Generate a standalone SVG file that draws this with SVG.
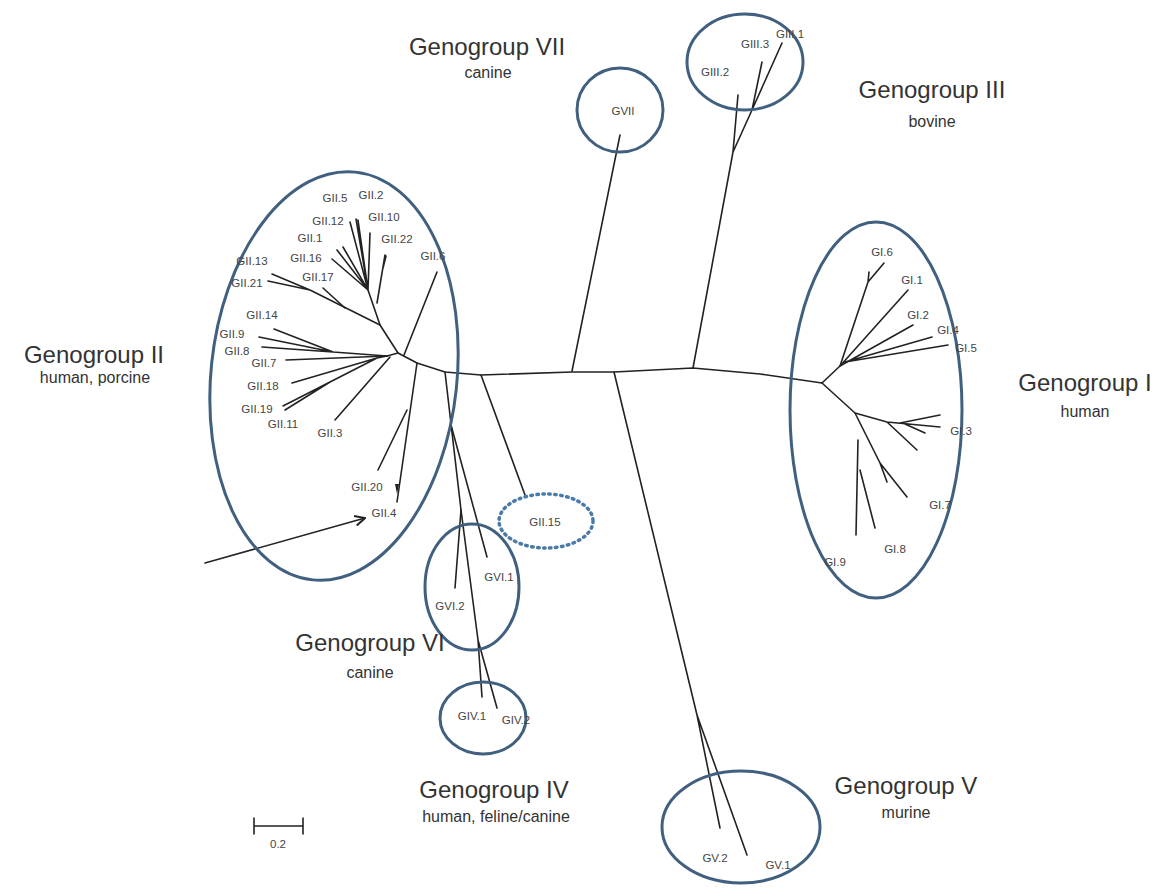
<svg xmlns="http://www.w3.org/2000/svg" width="1169" height="896" viewBox="0 0 1169 896">
<style>
.bg{fill:#ffffff}
.grp{fill:none;stroke:#41607f;stroke-width:3}
.dot{fill:none;stroke:#4a7aa8;stroke-width:3.5;stroke-dasharray:1.5 4.5;stroke-linecap:round}
.br{fill:none;stroke:#222;stroke-width:1.6;stroke-linecap:round;stroke-linejoin:round}
.lb{font-family:"Liberation Sans",Arial,sans-serif;font-size:11.5px;fill:#444;text-anchor:middle}
.gt{font-family:"Liberation Sans",Arial,sans-serif;font-size:24px;fill:#333;text-anchor:middle}
.st{font-family:"Liberation Sans",Arial,sans-serif;font-size:16px;fill:#333;text-anchor:middle}
</style>
<defs>
<marker id="openArrow" viewBox="0 0 12 12" refX="11" refY="6" markerWidth="12" markerHeight="12" markerUnits="userSpaceOnUse" orient="auto">
<path d="M1,1 L11,6 L1,11" fill="none" stroke="#222" stroke-width="2"/>
</marker>
</defs>
<rect class="bg" x="0" y="0" width="1169" height="896"/>

<g id="connectors">
<path class="br" d="M398,353 L417,363 L445,372 L481,375 L572,372 L614,372 L693,368 L760,374 L822,383"/>
<path class="br" d="M398,353 L380,325 L368,290"/>
<path class="br" d="M380,325 L310,290 L272,274 M310,290 L268,281"/>
<path class="br" d="M345,308 L323,288"/>
<path class="br" d="M368,290 L337,250 M368,290 L332,259 M368,290 L343,247 M368,290 L350,222 M368,290 L356,219 M368,290 L358,220 M368,290 L370,233"/>
<path class="br" d="M377,303 L385,255 M383,268 L386,256"/>
<path class="br" d="M404,355 L437,272"/>
<path class="br" d="M398,353 L387,356 L333,352 L274,329 M333,352 L259,337 M333,352 L262,347"/>
<path class="br" d="M387,356 L286,360"/>
<path class="br" d="M387,356 L377,358 L292,383 M377,358 L330,382 L283,406 M330,382 L285,410"/>
<path class="br" d="M390,357 L335,420"/>
<path class="br" d="M417,363 L397,502"/>
<path d="M395,484 L399,484 L397,494 Z" fill="#222"/>
<path class="br" d="M407,410 L378,470"/>
<path class="br" d="M481,375 L525,495"/>
<path class="br" d="M445,372 L461,510 L455,588"/>
<path class="br" d="M461,510 L478,640 L482,697 M478,640 L497,708"/>
<path class="br" d="M451,425 L487,557"/>
<path class="br" d="M614,372 L697,715 L720,828 M697,715 L747,855"/>
<path class="br" d="M693,368 L733,152 L738,95 M733,152 L752,110 L762,62 M752,110 L782,43"/>
<path class="br" d="M572,371 L620,135"/>
<path class="br" d="M822,383 L840,366 L868,282 L884,263 M868,282 L869,272"/>
<path class="br" d="M840,366 L908,290 M840,366 L913,325 M845,362 L932,337 M845,362 L948,345"/>
<path class="br" d="M822,383 L855,413 L887,422 L940,427 M900,423 L940,415 M905,424 L925,433 M887,422 L917,450"/>
<path class="br" d="M855,413 L880,463 L907,497 M880,463 L887,482"/>
<path class="br" d="M858,440 L856,535 M860,470 L875,528"/>
<path class="br" d="M205,563 L365,518" stroke-width="2.2" marker-end="url(#openArrow)"/>
<path class="br" d="M254,826 L303,826 M254,818 L254,834 M303,818 L303,834"/>
</g>

<g id="GII">
<ellipse class="grp" cx="334" cy="376" rx="123" ry="205" transform="rotate(6 334 376)"/>
<text class="lb" x="335" y="202">GII.5</text>
<text class="lb" x="371" y="199">GII.2</text>
<text class="lb" x="328" y="225">GII.12</text>
<text class="lb" x="384" y="221">GII.10</text>
<text class="lb" x="310" y="242">GII.1</text>
<text class="lb" x="397" y="243">GII.22</text>
<text class="lb" x="306" y="262">GII.16</text>
<text class="lb" x="252" y="265">GII.13</text>
<text class="lb" x="318" y="281">GII.17</text>
<text class="lb" x="247" y="287">GII.21</text>
<text class="lb" x="433" y="260">GII.6</text>
<text class="lb" x="262" y="319">GII.14</text>
<text class="lb" x="232" y="338">GII.9</text>
<text class="lb" x="237" y="355">GII.8</text>
<text class="lb" x="264" y="367">GII.7</text>
<text class="lb" x="263" y="390">GII.18</text>
<text class="lb" x="257" y="413">GII.19</text>
<text class="lb" x="283" y="428">GII.11</text>
<text class="lb" x="330" y="437">GII.3</text>
<text class="lb" x="367" y="491">GII.20</text>
<text class="lb" x="384" y="517">GII.4</text>
<text class="gt" x="94" y="363" font-size="26.5">Genogroup II</text>
<text class="st" x="95" y="383" font-size="19.5">human, porcine</text>
</g>

<g id="GII15">
<ellipse class="dot" cx="546" cy="521" rx="47" ry="27"/>
<text class="lb" x="545" y="526">GII.15</text>
</g>

<g id="GVII">
<ellipse class="grp" cx="620" cy="110" rx="43" ry="42"/>
<text class="lb" x="623" y="115" font-size="10">GVII</text>
<text class="gt" x="487" y="55">Genogroup VII</text>
<text class="st" x="488" y="78">canine</text>
</g>

<g id="GIII">
<ellipse class="grp" cx="745" cy="62" rx="58" ry="48"/>
<text class="lb" x="715" y="76">GIII.2</text>
<text class="lb" x="755" y="48">GIII.3</text>
<text class="lb" x="790" y="38">GIII.1</text>
<text class="gt" x="932" y="98" font-size="23">Genogroup III</text>
<text class="st" x="932" y="127">bovine</text>
</g>

<g id="GI">
<ellipse class="grp" cx="876" cy="410" rx="86" ry="188"/>
<text class="lb" x="882" y="256">GI.6</text>
<text class="lb" x="912" y="284">GI.1</text>
<text class="lb" x="918" y="319">GI.2</text>
<text class="lb" x="948" y="334">GI.4</text>
<text class="lb" x="966" y="352">GI.5</text>
<text class="lb" x="961" y="435">GI.3</text>
<text class="lb" x="940" y="509">GI.7</text>
<text class="lb" x="895" y="553">GI.8</text>
<text class="lb" x="835" y="566">GI.9</text>
<text class="gt" x="1085" y="391" font-size="25">Genogroup I</text>
<text class="st" x="1085" y="417">human</text>
</g>

<g id="GVI">
<ellipse class="grp" cx="472" cy="587" rx="47" ry="63"/>
<text class="lb" x="499" y="581">GVI.1</text>
<text class="lb" x="450" y="610">GVI.2</text>
<text class="gt" x="370" y="651">Genogroup VI</text>
<text class="st" x="370" y="678">canine</text>
</g>

<g id="GIV">
<ellipse class="grp" cx="483" cy="718" rx="43" ry="36"/>
<text class="lb" x="472" y="720">GIV.1</text>
<text class="lb" x="516" y="724">GIV.2</text>
<text class="gt" x="494" y="798" font-size="25">Genogroup IV</text>
<text class="st" x="496" y="822">human, feline/canine</text>
</g>

<g id="GV">
<ellipse class="grp" cx="741" cy="827" rx="79" ry="56"/>
<text class="lb" x="715" y="862">GV.2</text>
<text class="lb" x="778" y="869">GV.1</text>
<text class="gt" x="906" y="794" font-size="23">Genogroup V</text>
<text class="st" x="906" y="818">murine</text>
</g>

<g id="scale">
<text class="lb" x="278" y="848" font-size="9">0.2</text>
</g>
</svg>
